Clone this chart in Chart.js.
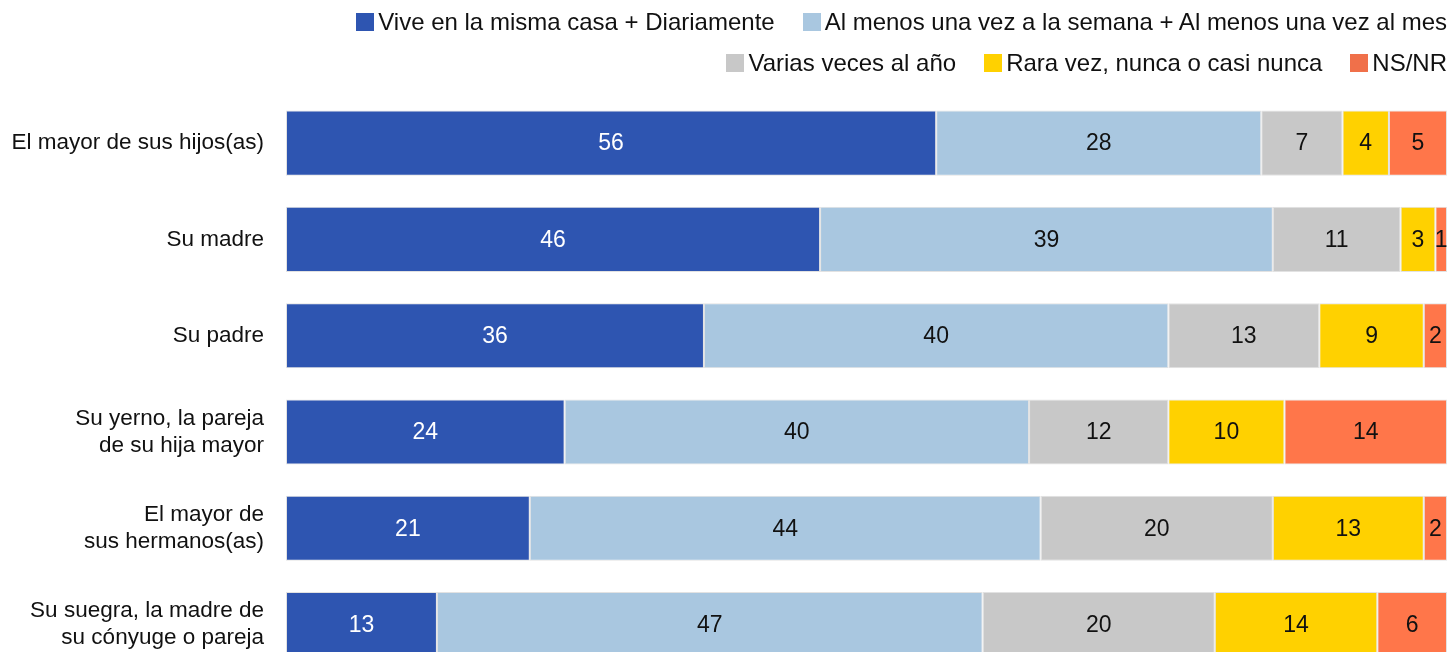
<!DOCTYPE html>
<html lang="es">
<head>
<meta charset="utf-8">
<script src="https://cdn.jsdelivr.net/npm/chart.js@4/dist/chart.umd.min.js"></script>
<style>
  html, body { margin: 0; padding: 0; background: #fff; }
  body { width: 1453px; height: 652px; overflow: hidden; position: relative; font-family: "Liberation Sans", Arial, sans-serif; }
  #legend { position: absolute; top: 0; right: 6px; color: #111; font-size: 24px; z-index: 2; }
  .row { display: flex; justify-content: flex-end; height: 41px; align-items: center; }
  .row:first-child { margin-top: 1px; }
  .item { display: flex; align-items: center; margin-left: 28px; white-space: nowrap; }
  .box { width: 18px; height: 18px; margin-right: 4px; }
  #chart { position: absolute; left: 0; top: 0; }
</style>
</head>
<body>
<div id="legend"></div>
<!-- taller than the window: the last row is cut off at the bottom in the original -->
<canvas id="chart" width="1453" height="680"></canvas>
<script>
// Categories (top to bottom)
const categories = [
  'El mayor de sus hijos(as)',
  'Su madre',
  'Su padre',
  ['Su yerno, la pareja', 'de su hija mayor'],
  ['El mayor de', 'sus hermanos(as)'],
  ['Su suegra, la madre de', 'su cónyuge o pareja']
];

const seriesNames = [
  'Vive en la misma casa + Diariamente',
  'Al menos una vez a la semana + Al menos una vez al mes',
  'Varias veces al año',
  'Rara vez, nunca o casi nunca',
  'NS/NR'
];

// Values (%) per series
const diario = [56, 46, 36, 24, 21, 13];
const semanaMes = [28, 39, 40, 40, 44, 47];
const variasAno = [7, 11, 13, 12, 20, 20];
const raraVez = [4, 3, 9, 10, 13, 14];
const nsnr = [5, 1, 2, 14, 2, 6];

const colors = ['#2E55B1', '#A9C7E0', '#C8C8C8', '#FFD100', '#FF764A'];
const legendColors = ['#2E55B1', '#A9C7E0', '#C8C8C8', '#FFD100', '#F0704A'];
const allSeries = [diario, semanaMes, variasAno, raraVez, nsnr];

// HTML legend, two right-aligned rows like the original
const legendRows = [[0, 1], [2, 3, 4]];
const legendEl = document.getElementById('legend');
legendRows.forEach(row => {
  const r = document.createElement('div');
  r.className = 'row';
  row.forEach(i => {
    const it = document.createElement('div');
    it.className = 'item';
    it.innerHTML = `<span class="box" style="background:${legendColors[i]}"></span><span>${seriesNames[i]}</span>`;
    r.appendChild(it);
  });
  legendEl.appendChild(r);
});

// Draw the value inside each segment
const valueLabels = {
  id: 'valueLabels',
  afterDatasetsDraw(chart) {
    const { ctx } = chart;
    ctx.save();
    ctx.font = '23px "Liberation Sans", Arial, sans-serif';
    ctx.textAlign = 'center';
    ctx.textBaseline = 'middle';
    chart.data.datasets.forEach((ds, di) => {
      const meta = chart.getDatasetMeta(di);
      meta.data.forEach((bar, i) => {
        const p = bar.getCenterPoint();
        ctx.fillStyle = di === 0 ? '#ffffff' : '#111111';
        ctx.fillText(ds.data[i], p.x, p.y + 1);
      });
    });
    ctx.restore();
  }
};

const ctx = document.getElementById('chart').getContext('2d');
new Chart(ctx, {
  type: 'bar',
  data: {
    labels: categories,
    datasets: allSeries.map((d, i) => ({
      label: seriesNames[i],
      data: d,
      backgroundColor: colors[i],
      borderColor: '#E2E2E2',
      borderWidth: 1,
      borderSkipped: false,
      categoryPercentage: 0.676,
      barPercentage: 1
    }))
  },
  options: {
    indexAxis: 'y',
    responsive: false,
    animation: false,
    events: [],
    layout: { padding: { top: 95, bottom: 7.4, left: 0, right: 6 } },
    plugins: {
      legend: { display: false },
      tooltip: { enabled: false }
    },
    scales: {
      x: {
        stacked: true,
        min: 0,
        max: 100,
        display: false
      },
      y: {
        stacked: true,
        grid: { display: false, drawTicks: false },
        border: { display: false },
        ticks: {
          padding: 22,
          color: '#111',
          font: { family: '"Liberation Sans", Arial, sans-serif', size: 22.5, lineHeight: 1.2 }
        },
        afterFit(scale) {
          scale.width = 286;
          // don't let the label heights shrink the plot area
          scale.paddingTop = 0;
          scale.paddingBottom = 0;
        }
      }
    }
  },
  plugins: [valueLabels]
});
</script>
</body>
</html>
